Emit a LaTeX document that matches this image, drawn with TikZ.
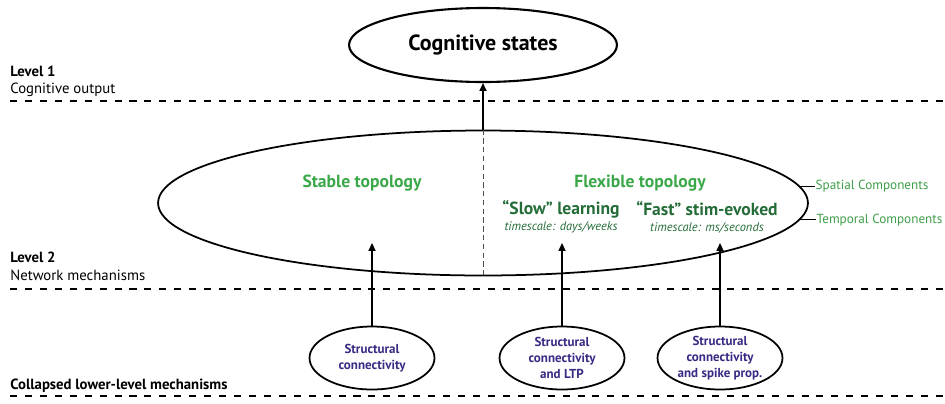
\documentclass[tikz,border=0pt]{standalone}
\usepackage{fontspec}
\setmainfont{PT Sans}
\usetikzlibrary{shapes.geometric,arrows.meta,positioning}
\definecolor{topogreen}{RGB}{58,168,72}
\definecolor{learngreen}{RGB}{36,108,56}
\definecolor{compgreen}{RGB}{62,158,72}
\definecolor{mechpurple}{RGB}{58,42,132}
\begin{document}
\begin{tikzpicture}[x=0.02cm, y=-0.02cm,
    levelline/.style={line width=1.3pt, dash pattern=on 4pt off 4.5pt},
    leveltitle/.style={anchor=base west, inner sep=0pt, font=\fontsize{8.4}{9}\selectfont\bfseries},
    levelnote/.style={anchor=base west, inner sep=0pt, font=\fontsize{8.4}{9}\selectfont},
    oval/.style={draw, ellipse, inner sep=0pt, line width=1pt},
    mechoval/.style={oval, minimum width=2.5cm, minimum height=1.26cm, align=center,
        text=mechpurple, font=\fontsize{7.4}{9}\selectfont\bfseries},
    topotext/.style={text=topogreen, font=\fontsize{10}{11}\selectfont\bfseries},
    ratetext/.style={text=learngreen, align=center, font=\fontsize{10}{11}\selectfont\bfseries},
    comptext/.style={text=compgreen, inner sep=0pt, font=\fontsize{7.5}{9}\selectfont},
    uparrow/.style={line width=0.9pt, -{Triangle[length=4.5pt,width=4pt]}}]
    \useasboundingbox (0,0) rectangle (945,403);

    % Level labels
    \node (lvlone) [leveltitle] at (10,76) {Level 1};
    \node (lvlonenote) [levelnote] at (10,93) {Cognitive output};
    \node (lvltwo) [leveltitle] at (10,262) {Level 2};
    \node (lvltwonote) [levelnote] at (10,280) {Network mechanisms};
    \node (lvllow) [leveltitle] at (10,389) {Collapsed lower-level mechanisms};

    % Dashed level borders
    \draw [levelline] (10,101) -- (945,101);
    \draw [levelline] (10,289) -- (945,289);
    \draw [levelline] (10,396) -- (945,396);

    % Cognitive states
    \node (cog) [oval, line width=1.2pt, minimum width=5.36cm, minimum height=1.48cm,
        font=\fontsize{12.5}{14}\selectfont\bfseries] at (483,45) {Cognitive states};

    % Network ellipse with its two halves
    \node (net) [oval, minimum width=13cm, minimum height=2.9cm] at (483,203) {};
    \draw [line width=0.5pt, dash pattern=on 3pt off 2pt, black!70] (net.north) -- (net.south);
    \draw [uparrow] (net.north) -- (cog.south);

    \node (stable) [topotext] at (362,183) {Stable topology};
    \node (flexible) [topotext] at (640,183) {Flexible topology};
    \node (slow) [ratetext] at (561,217) {``Slow'' learning\\[-2pt]
        {\fontsize{7.1}{8}\selectfont\mdseries\itshape timescale: days/weeks}};
    \node (fast) [ratetext] at (707,217) {``Fast'' stim-evoked\\[-2pt]
        {\fontsize{7.1}{8}\selectfont\mdseries\itshape timescale: ms/seconds}};

    % Component labels
    \node (spatial) [comptext, anchor=west, right=0.3cm of net.3] {Spatial Components};
    \node (temporal) [comptext, anchor=west, right=0.32cm of net.-3] {Temporal Components};
    \draw [line width=0.6pt] (net.3) -- (spatial.west);
    \draw [line width=0.6pt] (net.-3) -- (temporal.west);

    % Lower-level mechanisms
    \node (mechstable) [mechoval] at (372,358) {Structural\\connectivity};
    \node (mechslow) [mechoval] at (562,358) {Structural\\connectivity\\and LTP};
    \node (mechfast) [mechoval] at (720,358) {Structural\\connectivity\\and spike prop.};

    \coordinate (tipstable) at (372,243);
    \coordinate (tipslow) at (562,243);
    \coordinate (tipfast) at (720,243);
    \draw [uparrow] (mechstable) -- (tipstable);
    \draw [uparrow] (mechslow) -- (tipslow);
    \draw [uparrow] (mechfast) -- (tipfast);
\end{tikzpicture}
\end{document}
